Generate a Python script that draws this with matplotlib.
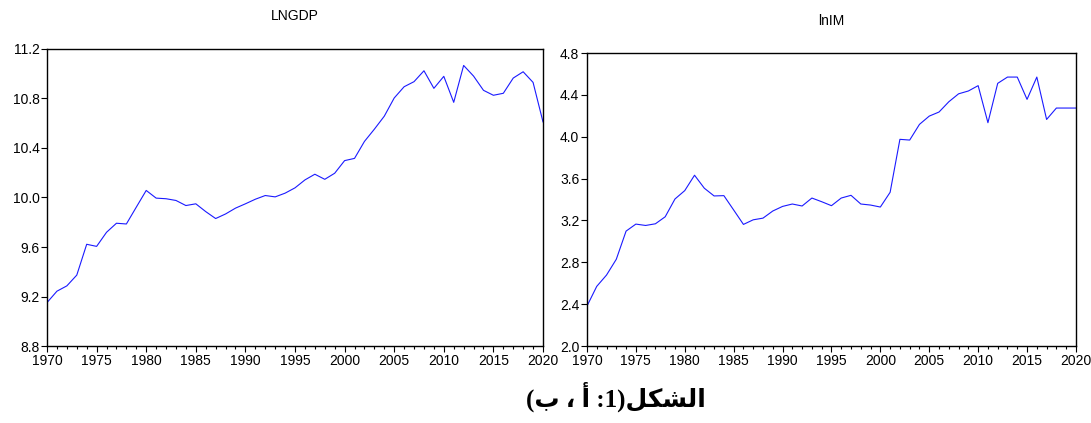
"""Two-panel line chart: LNGDP and lnIM, 1970-2020."""

import matplotlib

matplotlib.use("Agg")

import matplotlib.pyplot as plt
from matplotlib.ticker import MultipleLocator, FormatStrFormatter

years = list(range(1970, 2021))

lngdp = [
    9.151, 9.243, 9.286, 9.373, 9.622, 9.605, 9.719, 9.792, 9.786, 9.922,
    10.057, 9.995, 9.990, 9.976, 9.935, 9.949, 9.886, 9.830, 9.867, 9.914,
    9.949, 9.986, 10.016, 10.005, 10.035, 10.078, 10.142, 10.188, 10.147, 10.196,
    10.298, 10.316, 10.453, 10.552, 10.657, 10.804, 10.895, 10.936, 11.024, 10.882,
    10.979, 10.769, 11.067, 10.981, 10.866, 10.826, 10.842, 10.965, 11.016, 10.930,
    10.611,
]

lnim = [
    2.381, 2.570, 2.678, 2.829, 3.098, 3.165, 3.152, 3.168, 3.235, 3.405,
    3.485, 3.632, 3.508, 3.434, 3.437, 3.300, 3.162, 3.206, 3.222, 3.290,
    3.334, 3.357, 3.338, 3.414, 3.379, 3.341, 3.414, 3.440, 3.357, 3.347,
    3.328, 3.469, 3.975, 3.968, 4.118, 4.197, 4.236, 4.334, 4.410, 4.437,
    4.488, 4.134, 4.510, 4.570, 4.570, 4.357, 4.570, 4.165, 4.274, 4.274,
    4.274,
]

titles = ["LNGDP", "lnIM"]
y_limits = [(8.8, 11.2), (2.0, 4.8)]

# caption "الشكل(1: أ ، ب)" in visual (left-to-right) order with presentation forms
caption = "(\uFE8F \u060C \uFE83 :1)\uFEDE\uFEDC\uFEB8\uFEDF\uFE8D"

plt.rcParams["font.family"] = ["Liberation Sans", "DejaVu Sans"]

fig = plt.figure(figsize=(10.91, 4.23), dpi=100)
ax_l = fig.add_axes([0.0431, 0.1820, 0.4546, 0.7022])
ax_r = fig.add_axes([0.5380, 0.1820, 0.4482, 0.6927])

for ax, series, ylim in zip([ax_l, ax_r], [lngdp, lnim], y_limits):
    ax.plot(years, series, color="#1a1aff", lw=0.8)
    ax.set_xlim(1970, 2020)
    ax.set_ylim(*ylim)
    ax.xaxis.set_major_locator(MultipleLocator(5))
    ax.xaxis.set_minor_locator(MultipleLocator(1))
    ax.yaxis.set_major_locator(MultipleLocator(0.4))
    ax.yaxis.set_major_formatter(FormatStrFormatter("%.1f"))
    ax.tick_params(axis="both", which="major", direction="out", length=4,
                   width=0.8, labelsize=10, pad=1.5, colors="black")
    ax.tick_params(axis="x", which="minor", direction="out", length=2.5,
                   width=0.8)
    for sp in ax.spines.values():
        sp.set_linewidth(1.0)
        sp.set_color("black")

fig.text(0.2704, 0.962, titles[0], ha="center", va="center", fontsize=10)
fig.text(0.7621, 0.950, titles[1], ha="center", va="center", fontsize=10)

fig.text(0.565, 0.062, caption, ha="center", va="center", fontsize=18,
         fontweight="bold", family=["Liberation Serif", "DejaVu Sans"])

fig.savefig("out.png", dpi=100)
